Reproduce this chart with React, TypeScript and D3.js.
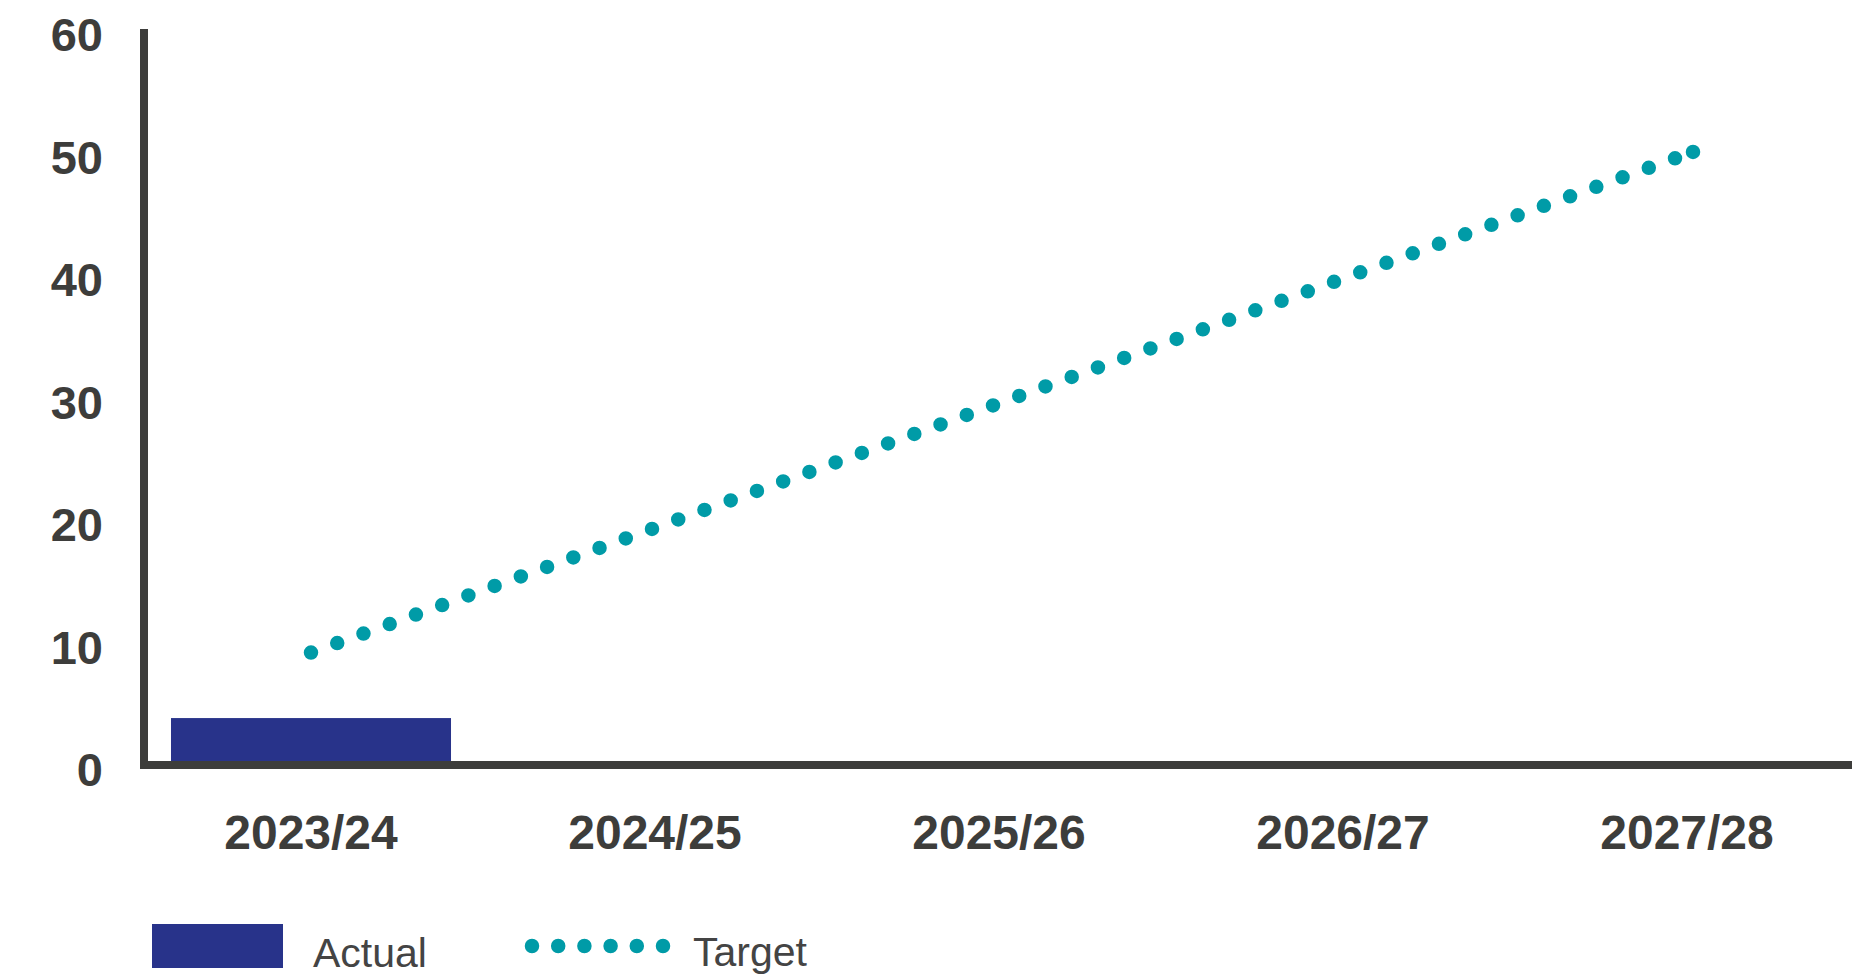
import React from "react";
import * as d3 from "d3";

const categories = ["2023/24", "2024/25", "2025/26", "2026/27", "2027/28"];
const actualValues = [3.75];
const targetStart = { category: "2023/24", value: 9.1 };
const targetEnd = { category: "2027/28", value: 49.8 };
const yTicks = [0, 10, 20, 30, 40, 50, 60];

const W = 1865;
const H = 978;
const AXIS = "#3d3d3b";
const BAR = "#28338a";
const TEAL = "#009ba7";
const FONT = "'Liberation Sans', Arial, Helvetica, sans-serif";

export default function App() {
  const x = d3
    .scaleBand<string>()
    .domain(categories)
    .range([139, 1859])
    .paddingInner(0.186)
    .paddingOuter(0.093);
  const y = d3.scaleLinear().domain([0, 60]).range([764, 29]);
  const cx = (c: string) => (x(c) as number) + x.bandwidth() / 2;

  const targetPts: [number, number][] = [
    [cx(targetStart.category), y(targetStart.value)],
    [cx(targetEnd.category), y(targetEnd.value)],
  ];
  const linePath = d3.line()(targetPts) as string;
  const dotGap = 27.9;
  const dotSize = 14.5;

  return (
    <svg
      width={W}
      height={H}
      style={{ position: "absolute", left: 0, top: 0, background: "#fff" }}
    >
      {/* actual bars */}
      {actualValues.map((v, i) => (
        <rect
          key={categories[i]}
          x={x(categories[i])}
          y={y(v)}
          width={x.bandwidth()}
          height={y(0) - y(v)}
          fill={BAR}
        />
      ))}

      {/* target trajectory: round dots along a straight line */}
      <path
        d={linePath}
        fill="none"
        stroke={TEAL}
        strokeWidth={dotSize}
        strokeLinecap="round"
        strokeDasharray={`0 ${dotGap}`}
      />
      <circle cx={targetPts[1][0] + 6} cy={targetPts[1][1] - 2} r={dotSize / 2} fill={TEAL} />

      {/* axes */}
      <line x1={144} x2={144} y1={y(60)} y2={769} stroke={AXIS} strokeWidth={8} />
      <line x1={140} x2={1852} y1={765} y2={765} stroke={AXIS} strokeWidth={8} />

      {/* y tick labels */}
      {yTicks.map((t) => (
        <text
          key={t}
          x={103}
          y={y(t) + 22}
          textAnchor="end"
          fontFamily={FONT}
          fontWeight="bold"
          fontSize={47}
          fill={AXIS}
        >
          {t}
        </text>
      ))}

      {/* x tick labels */}
      {categories.map((c) => (
        <text
          key={c}
          x={cx(c)}
          y={849}
          textAnchor="middle"
          fontFamily={FONT}
          fontWeight="bold"
          fontSize={48}
          fill={AXIS}
        >
          {c}
        </text>
      ))}

      {/* legend */}
      <rect x={152} y={924} width={131} height={44} fill={BAR} />
      <text x={313} y={967} fontFamily={FONT} fontSize={41} fill="#444">
        Actual
      </text>
      <line
        x1={532}
        x2={664}
        y1={946}
        y2={946}
        stroke={TEAL}
        strokeWidth={dotSize}
        strokeLinecap="round"
        strokeDasharray="0 26.2"
      />
      <text x={693} y={966} fontFamily={FONT} fontSize={41} fill="#444">
        Target
      </text>
    </svg>
  );
}
